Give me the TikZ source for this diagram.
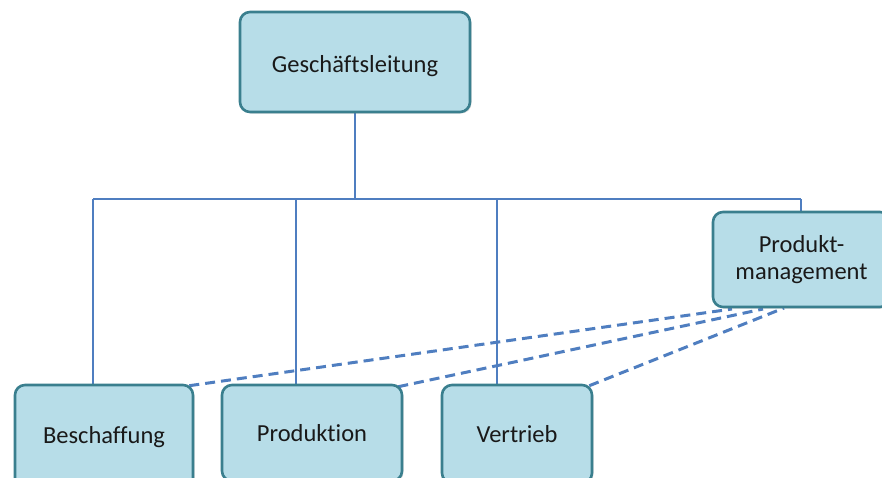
\documentclass[tikz,border=0pt]{standalone}
\usepackage{fontspec}
\setmainfont{Carlito}[Ligatures=NoCommon]
\usetikzlibrary{shadows,backgrounds}
\definecolor{boxfill}{HTML}{B7DDE8}
\definecolor{boxedge}{HTML}{3A7F8E}
\definecolor{linkblue}{HTML}{4F7EC0}
\begin{document}
\begin{tikzpicture}[x=1pt,y=-1pt,
  orgbox/.style={draw=boxedge, line width=2.6pt, fill=boxfill, rounded corners=10pt,
    align=center, font=\fontsize{24.5}{26.5}\selectfont, text=black!90,
    drop shadow={shadow xshift=1.5pt, shadow yshift=-1.5pt, opacity=0.25}},
  tree/.style={draw=linkblue, line width=2.8pt},
  dotlink/.style={draw=linkblue, line width=3pt, dash pattern=on 10pt off 6pt}]
\clip (0,0) rectangle (882,477);
\useasboundingbox (0,0) rectangle (882,477);
\coordinate (top) at (355,199);
\coordinate (j1) at (93,199);
\coordinate (j2) at (296,199);
\coordinate (j3) at (497,199);
\coordinate (j4) at (801,199);
\node[orgbox, minimum width=230pt, minimum height=100pt, text height=26pt, text depth=6pt] (gl) at (355,62) {Geschäftsleitung};
\node[orgbox, minimum width=178pt, minimum height=104pt] (be) at (104,437) {Beschaffung};
\node[orgbox, minimum width=180pt, minimum height=96pt] (pr) at (312,433) {Produktion};
\node[orgbox, minimum width=150pt, minimum height=98pt] (ve) at (517,434) {Vertrieb};
\node[orgbox, minimum width=177pt, minimum height=95pt] (pm) at (801.5,259.5) {Produkt-\\management};
\coordinate (pm1) at (732,309);
\coordinate (pm2) at (763,309);
\coordinate (pm3) at (784,308);
\begin{scope}[on background layer]
\draw[tree] (gl.south) -- (top);
\draw[tree] (j1) -- (j4);
\draw[tree] (j1) -- (j1 |- be.north);
\draw[tree] (j2) -- (j2 |- pr.north);
\draw[tree] (j3) -- (j3 |- ve.north);
\draw[tree] (j4) -- (j4 |- pm.north);
\draw[dotlink] ([xshift=-5pt,yshift=-2pt]be.north east) -- (pm1);
\draw[dotlink] ([xshift=-5pt,yshift=-3pt]pr.north east) -- (pm2);
\draw[dotlink] ([xshift=-4pt,yshift=-2pt]ve.north east) -- (pm3);
\end{scope}
\end{tikzpicture}
\end{document}
